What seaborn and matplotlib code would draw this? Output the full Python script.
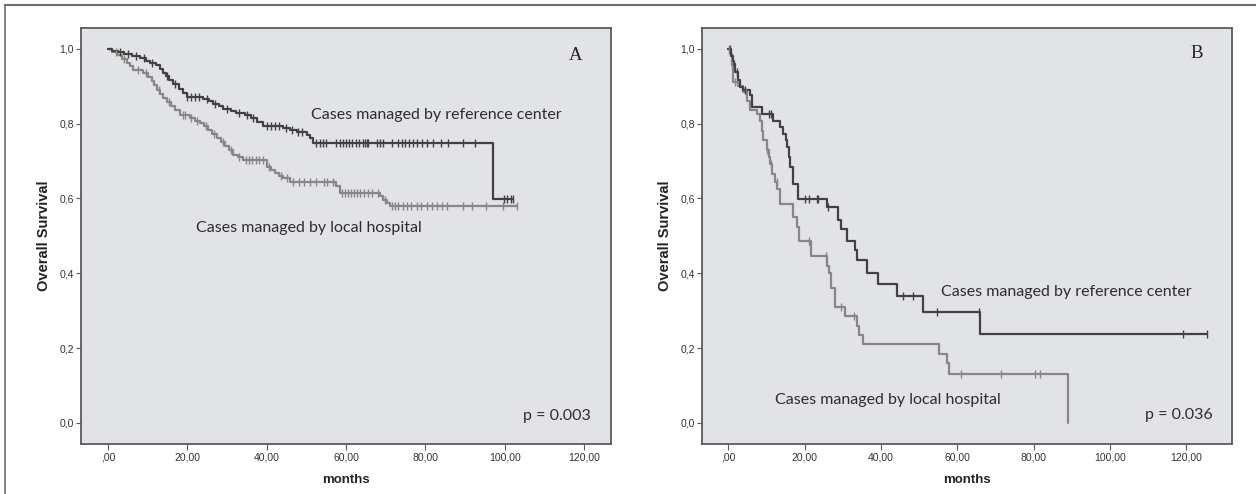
import numpy as np
import matplotlib
matplotlib.use("Agg")
import matplotlib.pyplot as plt
from matplotlib.lines import Line2D
import seaborn as sns

# ---------------- data ----------------
# Panel A
A_REF_T = [0, 1.0, 2.5, 4.0, 6.0, 8.0, 9.5, 10.5, 12.0, 13.0, 14.0, 14.6, 15.5, 16.5, 18.0,
           19.0, 19.8, 24.0, 25.5, 26.6, 28.0, 29.1, 31.0, 32.4, 34.5, 36.0, 37.5, 39.1,
           44.2, 46.0, 47.6, 50.1, 51.0, 51.8, 97.1]
A_REF_S = [1.0, 0.995, 0.99, 0.985, 0.98, 0.975, 0.968, 0.962, 0.955, 0.946, 0.936, 0.926,
           0.915, 0.905, 0.892, 0.882, 0.871, 0.866, 0.86, 0.853, 0.846, 0.84, 0.833, 0.827,
           0.822, 0.815, 0.803, 0.792, 0.787, 0.783, 0.778, 0.770, 0.76, 0.749, 0.599]
A_REF_END = 102.2
A_REF_CENS = [3, 5, 7, 9, 11, 15, 17, 20, 21, 22, 23, 25, 27, 30, 33, 35, 36.5, 40, 41, 42,
              43, 45, 46.5, 48, 49, 52.5, 53.4, 54.2, 55, 57.6, 58.4, 59.2, 60, 60.8, 61.6,
              62.4, 63.2, 64.2, 64.8, 65.2, 65.6, 67.8, 68.6, 69.4, 71.5, 73, 74.2, 75, 76,
              77, 78, 79.2, 80.3, 82, 84, 85.8, 89.6, 92.5, 99.9, 100.7, 101.6, 102.2]

A_LOC_T = [0, 1.0, 2.2, 3.5, 4.7, 5.5, 6.4, 8.9, 10.0, 11.0, 11.7, 12.3, 13.1, 13.9, 15.0,
           16.0, 17.0, 18.1, 20.7, 22.0, 23.2, 24.2, 25.3, 26.3, 27.4, 28.4, 29.5, 30.5,
           31.6, 32.8, 34.1, 40.0, 41.0, 42.1, 43.2, 44.2, 45.9, 57.6, 58.5, 68.5, 69.4,
           70.3, 71.1]
A_LOC_S = [1.0, 0.992, 0.984, 0.973, 0.962, 0.953, 0.944, 0.935, 0.924, 0.913, 0.902, 0.89,
           0.879, 0.868, 0.857, 0.846, 0.835, 0.824, 0.815, 0.808, 0.801, 0.792, 0.783,
           0.772, 0.761, 0.75, 0.739, 0.728, 0.717, 0.71, 0.703, 0.685, 0.676, 0.668, 0.661,
           0.654, 0.645, 0.632, 0.614, 0.605, 0.596, 0.588, 0.58]
A_LOC_END = 103.0
A_LOC_CENS = [2, 4, 7.5, 9.5, 12.8, 15.5, 18.8, 19.5, 21, 22.5, 24.8, 26.8, 28.9, 31, 33,
              34.8, 35.6, 36.4, 37.2, 38, 39, 40.6, 43.7, 45.2, 46.7, 48.2, 49.4, 51, 52.5,
              54.5, 55.1, 56.8, 58.9, 59.8, 60.5, 61.3, 62, 62.8, 63.6, 64.5, 65.5, 66.5, 68,
              69.8, 71.5, 72.4, 73.2, 74.4, 75.3, 76.5, 77.8, 79, 80.3, 81.6, 82.9, 84.1,
              85.4, 89.6, 91.7, 95.4, 99.6, 103]

# Panel B
B_REF_T = [0, 0.6, 1.1, 1.7, 2.5, 3.0, 3.9, 5.6, 6.1, 8.7, 11.8, 13.5, 14.4, 15.0, 15.3,
           15.8, 16.1, 17.0, 18.3, 25.8, 28.8, 29.5, 31.0, 33.2, 33.7, 36.3, 39.1, 44.3,
           51.0, 66.0]
B_REF_S = [1.0, 0.98, 0.96, 0.937, 0.915, 0.897, 0.889, 0.875, 0.844, 0.826, 0.808, 0.79,
           0.773, 0.755, 0.737, 0.71, 0.683, 0.639, 0.599, 0.577, 0.541, 0.519, 0.487,
           0.461, 0.434, 0.40, 0.370, 0.340, 0.296, 0.238]
B_REF_END = 125.4
B_REF_CENS = [0.3, 1.4, 2.2, 4.3, 10.5, 11.2, 20, 21, 23.1, 23.6, 26.1, 45.7, 48.3, 54.7,
              65.7, 119.1, 125.4]

B_LOC_T = [0, 0.5, 1.0, 1.3, 2.5, 3.9, 4.8, 5.6, 7.5, 8.3, 8.8, 9.1, 10.0, 10.5, 10.9,
           11.5, 12.2, 12.8, 13.5, 17.0, 17.9, 18.5, 21.6, 25.8, 26.3, 26.8, 27.8, 30.5,
           33.6, 34.2, 35.2, 55.2, 57.3, 57.8, 89.1]
B_LOC_S = [1.0, 0.985, 0.955, 0.911, 0.90, 0.884, 0.86, 0.835, 0.825, 0.808, 0.78, 0.755,
           0.73, 0.71, 0.692, 0.665, 0.643, 0.625, 0.585, 0.55, 0.523, 0.487, 0.445, 0.42,
           0.40, 0.36, 0.31, 0.287, 0.26, 0.234, 0.21, 0.183, 0.16, 0.13, 0.0]
B_LOC_END = 89.1
B_LOC_CENS = [0.2, 1.0, 1.6, 4.5, 10.0, 11.2, 12.6, 21.0, 25.5, 29.5, 33.0, 61.0, 71.5,
              80.4, 81.8]

LABEL_REF = "Cases managed by reference center"
LABEL_LOC = "Cases managed by local hospital"
P_A = "p = 0.003"
P_B = "p = 0.036"
X_TICKS = [0, 20, 40, 60, 80, 100, 120]
X_TICKLABELS = [",00", "20,00", "40,00", "60,00", "80,00", "100,00", "120,00"]
Y_TICKS = [0.0, 0.2, 0.4, 0.6, 0.8, 1.0]
Y_TICKLABELS = ["0,0", "0,2", "0,4", "0,6", "0,8", "1,0"]
X_LABEL = "months"
Y_LABEL = "Overall Survival"

# ---------------- style ----------------
sns.set_style("white")
plt.rcParams["font.family"] = ["Liberation Sans", "DejaVu Sans"]

DARK = "#424242"
LIGHT = "#878787"
BG = "#e2e3e6"
SPINE = "#5a5a5a"

fig = plt.figure(figsize=(12.56, 4.94), dpi=100)
fig.patch.set_facecolor("white")

axA = fig.add_axes([0.0646, 0.1022, 0.4217, 0.841])
axB = fig.add_axes([0.5589, 0.1022, 0.4222, 0.841])


def km(ax, t, s, end, cens, color):
    t = np.asarray(t, float)
    s = np.asarray(s, float)
    tt = np.append(t, end)
    ss = np.append(s, s[-1])
    sns.lineplot(x=tt, y=ss, ax=ax, color=color, lw=1.6, drawstyle="steps-post",
                 estimator=None, sort=False)
    c = np.asarray(cens, float)
    idx = np.searchsorted(t, c, side="right") - 1
    sns.scatterplot(x=c, y=s[idx], ax=ax, marker="|", s=34, color=color,
                    linewidth=1.0, zorder=3)


km(axA, A_LOC_T, A_LOC_S, A_LOC_END, A_LOC_CENS, LIGHT)
km(axA, A_REF_T, A_REF_S, A_REF_END, A_REF_CENS, DARK)
km(axB, B_LOC_T, B_LOC_S, B_LOC_END, B_LOC_CENS, LIGHT)
km(axB, B_REF_T, B_REF_S, B_REF_END, B_REF_CENS, DARK)

axA.set_xlim(-6.76, 126.75)
axB.set_xlim(-6.95, 132.1)

for ax in (axA, axB):
    ax.set_facecolor(BG)
    ax.set_ylim(-0.055, 1.055)
    ax.set_xticks(X_TICKS)
    ax.set_xticklabels(X_TICKLABELS)
    ax.set_yticks(Y_TICKS)
    ax.set_yticklabels(Y_TICKLABELS)
    ax.tick_params(axis="x", direction="out", length=4.3, width=0.8, color=SPINE,
                   labelsize=7.5, labelcolor="#333333", pad=2.5, bottom=True)
    ax.tick_params(axis="y", direction="out", length=3.6, width=0.8, color=SPINE,
                   labelsize=7.5, labelcolor="#333333", pad=1.4, left=True)
    for sp in ax.spines.values():
        sp.set_visible(True)
        sp.set_color(SPINE)
        sp.set_linewidth(1.3)
    ax.set_xlabel(X_LABEL, fontsize=9.5, fontweight="bold", color="#222222")
    ax.set_ylabel(Y_LABEL, fontsize=10.5, fontweight="bold", color="#222222")
    ax.xaxis.set_label_coords(0.5, -0.088)
    ax.xaxis.label.set_va("center")
    ax.yaxis.set_label_coords(-0.07, 0.5)
    ax.yaxis.label.set_va("center")
    ax.grid(False)

TXT = dict(family=["Lato", "DejaVu Sans"], fontsize=11.5, color="#2e2e2e")

axA.text(117.8, 0.982, "A", family=["Liberation Serif"], fontsize=13.5, color="#222222",
         ha="center", va="center")
axA.text(51.1, 0.822, LABEL_REF, ha="left", va="center", **TXT)
axA.text(22.1, 0.52, LABEL_LOC, ha="left", va="center", **TXT)
axA.text(121.6, 0.018, P_A, ha="right", va="center", **TXT)

axB.text(122.8, 0.987, "B", family=["Liberation Serif"], fontsize=13.5, color="#222222",
         ha="center", va="center")
axB.text(55.7, 0.349, LABEL_REF, ha="left", va="center", **TXT)
axB.text(12.1, 0.06, LABEL_LOC, ha="left", va="center", **TXT)
axB.text(127.0, 0.02, P_B, ha="right", va="center", **TXT)

# outer frame (top and left lines)
fig.add_artist(Line2D([5 / 1256, 1.0], [1 - 5 / 494, 1 - 5 / 494],
                      transform=fig.transFigure, color="#6e6e6e", lw=1.5))
fig.add_artist(Line2D([5 / 1256, 5 / 1256], [0.0, 1 - 5 / 494],
                      transform=fig.transFigure, color="#6e6e6e", lw=1.2))

fig.savefig("out.png", dpi=100, facecolor="white")
